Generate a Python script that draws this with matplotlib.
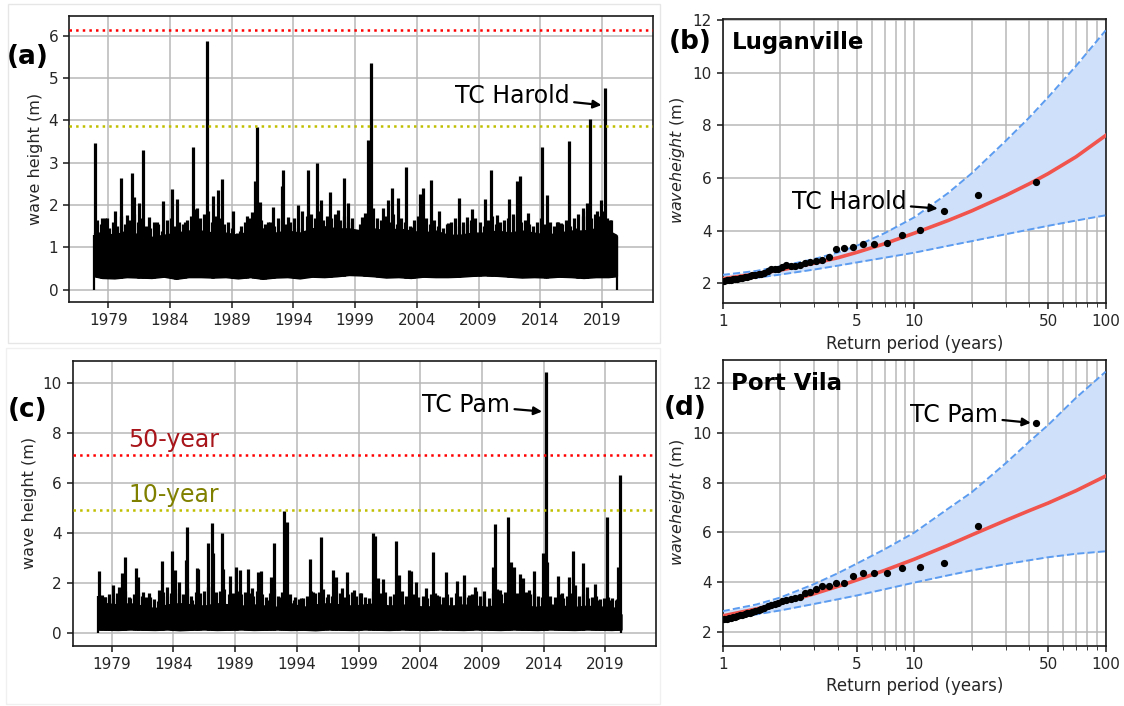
"""
Wave height time series (a, c) and return period curves (b, d)
for Luganville and Port Vila.
"""

import numpy as np
import matplotlib
matplotlib.use("Agg")
from matplotlib import pyplot as plt
from matplotlib.patches import Rectangle

#------------------------------------------------------------------------------
# data
#------------------------------------------------------------------------------

tick_years = [1979, 1984, 1989, 1994, 1999, 2004, 2009, 2014, 2019]

# (a) Luganville time series: background band + individual peaks
band_yr_a = [1977.85, 1978.5, 1979.5, 1980.5, 1981.5, 1982.5, 1983.5, 1984.5, 1985.5,
             1986.5, 1987.5, 1988.5, 1989.5, 1990.5, 1991.5, 1992.5, 1993.5, 1994.5,
             1995.5, 1996.5, 1997.5, 1998.5, 1999.5, 2000.5, 2001.5, 2002.5, 2003.5,
             2004.5, 2005.5, 2006.5, 2007.5, 2008.5, 2009.5, 2010.5, 2011.5, 2012.5,
             2013.5, 2014.5, 2015.5, 2016.5, 2017.5, 2018.5, 2019.5, 2020.15]
band_lo_a = [0.32, 0.28, 0.27, 0.30, 0.29, 0.28, 0.31, 0.26, 0.30, 0.30, 0.29, 0.30,
             0.27, 0.30, 0.26, 0.29, 0.30, 0.27, 0.31, 0.30, 0.32, 0.35, 0.34, 0.32,
             0.29, 0.30, 0.28, 0.31, 0.30, 0.30, 0.31, 0.33, 0.34, 0.33, 0.31, 0.29,
             0.30, 0.29, 0.31, 0.30, 0.28, 0.30, 0.30, 0.32]
band_hi_a = [1.35, 1.35, 1.30, 1.40, 1.30, 1.25, 1.30, 1.35, 1.40, 1.40, 1.35, 1.35,
             1.30, 1.40, 1.45, 1.35, 1.40, 1.35, 1.45, 1.50, 1.45, 1.45, 1.40, 1.45,
             1.40, 1.45, 1.40, 1.35, 1.40, 1.30, 1.30, 1.35, 1.35, 1.40, 1.35, 1.40,
             1.35, 1.30, 1.35, 1.40, 1.40, 1.45, 1.40, 1.30]
peak_yr_a = [1977.92, 1978.46, 1978.87, 1979.54, 1980.05, 1980.48, 1980.89, 1981.08,
             1981.51, 1981.78, 1982.32, 1982.91, 1983.40, 1984.13, 1984.59, 1985.21,
             1985.88, 1986.15, 1986.96, 1987.45, 1987.91, 1988.23, 1989.12, 1989.66,
             1990.20, 1990.61, 1990.88, 1991.06, 1991.28, 1991.96, 1992.36, 1993.04,
             1993.17, 1993.57, 1994.38, 1995.14, 1995.92, 1996.27, 1996.95, 1997.62,
             1998.08, 1998.43, 1999.11, 1999.52, 1999.79, 2000.06, 2000.25, 2000.46,
             2001.27, 2001.68, 2001.95, 2002.49, 2003.08, 2003.57, 2004.24, 2004.51,
             2005.13, 2005.78, 2006.53, 2007.42, 2008.02, 2008.50, 2009.50, 2010.04,
             2010.50, 2011.48, 2012.07, 2012.34, 2013.01, 2014.15, 2014.55, 2015.31,
             2015.71, 2016.31, 2016.98, 2017.47, 2017.74, 2018.06, 2018.60, 2018.95,
             2019.27, 2019.62, 2020.11]
peak_h_a = [3.47, 1.70, 1.70, 1.85, 2.65, 1.77, 2.75, 2.18, 2.06, 3.30, 1.73, 1.60,
            2.10, 2.37, 2.14, 1.60, 3.38, 1.93, 5.88, 2.22, 2.36, 2.61, 1.85, 1.40,
            1.75, 1.83, 2.58, 3.84, 2.08, 1.60, 1.95, 2.45, 2.83, 1.73, 2.00, 2.83,
            2.99, 2.12, 2.30, 1.89, 2.65, 2.04, 1.41, 1.73, 1.81, 3.54, 5.36, 1.93,
            1.93, 2.12, 2.41, 2.16, 2.89, 1.49, 2.26, 2.40, 2.59, 1.85, 1.57, 2.16,
            1.73, 1.91, 2.15, 2.83, 1.77, 2.15, 2.56, 2.69, 1.81, 3.38, 2.24, 1.61,
            1.57, 3.51, 1.45, 1.93, 2.06, 4.03, 1.85, 2.12, 4.76, 1.65, 1.30]
# smaller swell events, about three a year (1978.05 ... 2019.75)
minor_yr_a = np.linspace(1978.05, 2019.75, 126)
minor_h_a = [1.65, 1.55, 1.70, 1.45, 1.60, 1.50, 1.75, 1.55, 1.65, 1.80, 1.60, 1.70,
             1.50, 1.45, 1.60, 1.55, 1.40, 1.65, 1.70, 1.50, 1.60, 1.55, 1.65, 1.75,
             1.90, 1.70, 1.80, 1.85, 1.60, 1.75, 1.70, 1.55, 1.60, 1.45, 1.35, 1.50,
             1.60, 1.70, 1.75, 1.80, 1.65, 1.55, 1.60, 1.50, 1.70, 1.65, 1.55, 1.60,
             1.70, 1.45, 1.85, 1.75, 1.80, 1.70, 1.85, 1.65, 1.75, 1.70, 1.80, 1.65,
             1.75, 1.60, 1.70, 1.40, 1.55, 1.65, 1.80, 1.60, 1.70, 1.65, 1.75, 1.60,
             1.80, 1.55, 1.70, 1.60, 1.50, 1.65, 1.75, 1.60, 1.70, 1.55, 1.65, 1.50,
             1.45, 1.55, 1.60, 1.70, 1.50, 1.60, 1.55, 1.65, 1.70, 1.60, 1.50, 1.65,
             1.75, 1.55, 1.60, 1.65, 1.70, 1.80, 1.75, 1.60, 1.65, 1.55, 1.50, 1.60,
             1.70, 1.55, 1.60, 1.50, 1.60, 1.55, 1.65, 1.50, 1.70, 1.80, 1.75, 1.85,
             1.70, 1.80, 1.75, 1.85, 1.70, 1.65]
edge_yr_a = [1977.84, 2020.17]
edge_h_a = [1.30, 1.25]
rp50_a = 6.14
rp10_a = 3.87

# (c) Port Vila time series
band_yr_c = [1977.9, 1978.5, 1979.5, 1980.5, 1981.5, 1982.5, 1983.5, 1984.5, 1985.5,
             1986.5, 1987.5, 1988.5, 1989.5, 1990.5, 1991.5, 1992.5, 1993.5, 1994.5,
             1995.5, 1996.5, 1997.5, 1998.5, 1999.5, 2000.5, 2001.5, 2002.5, 2003.5,
             2004.5, 2005.5, 2006.5, 2007.5, 2008.5, 2009.5, 2010.5, 2011.5, 2012.5,
             2013.5, 2014.5, 2015.5, 2016.5, 2017.5, 2018.5, 2019.5, 2020.3]
band_lo_c = [0.15, 0.14, 0.13, 0.15, 0.14, 0.13, 0.15, 0.12, 0.14, 0.15, 0.13, 0.14,
             0.15, 0.13, 0.14, 0.15, 0.13, 0.14, 0.12, 0.15, 0.14, 0.13, 0.15, 0.14,
             0.13, 0.15, 0.14, 0.13, 0.15, 0.14, 0.13, 0.15, 0.14, 0.13, 0.15, 0.14,
             0.13, 0.15, 0.14, 0.13, 0.15, 0.14, 0.13, 0.15]
band_hi_c = [1.25, 1.20, 1.15, 1.20, 1.10, 1.00, 1.15, 1.20, 1.15, 1.10, 1.20, 1.15,
             1.10, 1.15, 1.10, 1.05, 1.20, 1.05, 1.15, 1.20, 1.15, 1.10, 1.15, 1.20,
             1.10, 1.15, 1.10, 1.05, 1.15, 1.10, 1.15, 1.10, 1.05, 1.20, 1.15, 1.10,
             1.05, 1.15, 1.10, 1.05, 1.10, 1.05, 1.10, 0.75]
peak_yr_c = [1978.00, 1978.19, 1978.46, 1979.08, 1979.62, 1979.81, 1980.08, 1980.48,
             1980.97, 1981.16, 1981.51, 1982.05, 1982.84, 1983.05, 1983.46, 1983.92,
             1984.13, 1984.48, 1985.03, 1985.08, 1985.49, 1985.89, 1986.03, 1986.84,
             1987.11, 1987.24, 1987.92, 1988.05, 1988.59, 1989.08, 1989.40, 1990.08,
             1990.35, 1990.84, 1991.11, 1991.57, 1991.89, 1992.16, 1992.65, 1993.00,
             1993.19, 1993.73, 1994.33, 1995.08, 1995.35, 1995.97, 1996.43, 1996.97,
             1997.19, 1997.65, 1998.06, 1998.60, 1999.14, 2000.14, 2000.30, 2000.55,
             2000.98, 2001.57, 2002.03, 2002.25, 2003.11, 2003.25, 2003.68, 2004.49,
             2005.03, 2005.36, 2006.09, 2006.98, 2007.52, 2007.92, 2008.47, 2009.14,
             2009.90, 2010.09, 2010.49, 2011.09, 2011.38, 2011.57, 2012.11, 2012.33,
             2012.79, 2013.19, 2013.95, 2014.17, 2014.27, 2015.14, 2015.49, 2016.05,
             2016.35, 2016.57, 2017.19, 2017.52, 2018.14, 2018.46, 2019.14, 2019.41,
             2019.82, 2020.03, 2020.17]
peak_h_c = [2.50, 1.53, 1.46, 1.93, 1.86, 2.40, 3.03, 1.40, 2.59, 2.26, 1.66, 1.62,
            1.73, 2.90, 1.86, 3.29, 2.53, 2.06, 2.93, 4.26, 1.33, 2.62, 2.55, 3.59,
            4.39, 3.22, 4.02, 2.55, 2.29, 2.63, 2.53, 2.58, 1.80, 2.46, 2.50, 1.33,
            2.26, 3.62, 1.46, 4.86, 4.46, 1.33, 1.40, 2.95, 1.66, 3.86, 1.46, 2.53,
            2.24, 1.80, 2.46, 1.73, 1.60, 3.99, 3.89, 2.20, 2.16, 1.46, 3.70, 2.33,
            2.53, 2.50, 2.06, 1.80, 3.23, 1.53, 2.46, 2.10, 2.33, 1.53, 1.86, 1.70,
            2.66, 4.36, 1.73, 4.66, 2.86, 2.66, 2.37, 2.20, 1.73, 2.50, 3.22, 10.41,
            2.86, 2.29, 1.60, 2.26, 3.30, 1.93, 2.82, 1.86, 1.96, 1.33, 4.63, 1.33,
            1.33, 2.63, 6.32]
minor_yr_c = np.linspace(1978.1, 2019.9, 126)
minor_h_c = [1.50, 1.45, 1.55, 1.40, 1.60, 1.50, 1.70, 1.45, 1.55, 1.60, 1.50, 1.45,
             1.45, 1.35, 1.30, 1.65, 1.50, 1.60, 1.75, 1.60, 1.55, 1.80, 1.50, 1.65,
             1.60, 1.70, 1.85, 1.90, 1.65, 1.70, 1.75, 1.55, 1.60, 1.70, 1.55, 1.65,
             1.60, 1.50, 1.70, 1.55, 1.45, 1.60, 1.75, 1.50, 1.65, 1.80, 1.55, 1.45,
             1.35, 1.40, 1.50, 1.70, 1.60, 1.65, 1.75, 1.55, 1.50, 1.65, 1.60, 1.45,
             1.55, 1.65, 1.50, 1.60, 1.45, 1.40, 1.70, 1.55, 1.60, 1.65, 1.50, 1.55,
             1.60, 1.70, 1.50, 1.65, 1.55, 1.45, 1.50, 1.40, 1.55, 1.60, 1.50, 1.45,
             1.55, 1.45, 1.60, 1.50, 1.65, 1.45, 1.55, 1.70, 1.50, 1.45, 1.40, 1.60,
             1.75, 1.55, 1.65, 1.80, 1.70, 1.60, 1.75, 1.65, 1.55, 1.60, 1.50, 1.45,
             1.65, 1.50, 1.45, 1.55, 1.40, 1.50, 1.60, 1.45, 1.50, 1.55, 1.40, 1.45,
             1.50, 1.35, 1.40, 1.45, 1.40, 1.35]
edge_yr_c = [1977.86, 2020.3]
edge_h_c = [1.50, 0.75]
rp50_c = 7.12
rp10_c = 4.91

# (b) Luganville return periods: annual maxima
rp_T = [43.0, 21.5, 14.3, 10.75, 8.6, 7.17, 6.14, 5.38, 4.78, 4.30, 3.91, 3.58, 3.31,
        3.07, 2.87, 2.69, 2.53, 2.39, 2.26, 2.15, 2.05, 1.95, 1.87, 1.79, 1.72, 1.65,
        1.59, 1.54, 1.48, 1.43, 1.39, 1.34, 1.30, 1.26, 1.23, 1.19, 1.16, 1.13, 1.10,
        1.075, 1.05, 1.02]
amax_b = [5.85, 5.36, 4.76, 4.02, 3.82, 3.53, 3.49, 3.49, 3.36, 3.34, 3.30, 2.98, 2.89,
          2.85, 2.82, 2.78, 2.70, 2.66, 2.66, 2.68, 2.62, 2.56, 2.54, 2.53, 2.45, 2.40,
          2.36, 2.35, 2.33, 2.30, 2.26, 2.23, 2.22, 2.20, 2.19, 2.17, 2.16, 2.15, 2.14,
          2.12, 2.11, 2.10]
# (d) Port Vila
amax_d = [10.40, 6.27, 4.78, 4.62, 4.56, 4.38, 4.38, 4.35, 4.24, 3.98, 3.95, 3.84, 3.83,
          3.71, 3.60, 3.55, 3.40, 3.34, 3.30, 3.27, 3.22, 3.17, 3.12, 3.08, 3.02, 2.96,
          2.92, 2.88, 2.83, 2.80, 2.77, 2.74, 2.72, 2.68, 2.66, 2.63, 2.60, 2.58, 2.56,
          2.55, 2.53, 2.52]

# fitted curve and confidence band
fit_T = [1, 1.5, 2, 3, 4, 5, 7, 10, 15, 20, 30, 40, 50, 70, 100]
fit_b = [2.17, 2.36, 2.50, 2.76, 2.97, 3.17, 3.50, 3.90, 4.38, 4.75, 5.33, 5.78, 6.16,
         6.80, 7.61]
ci_hi_b = [2.32, 2.47, 2.64, 2.92, 3.17, 3.42, 3.90, 4.50, 5.42, 6.18, 7.40, 8.30, 9.06,
           10.25, 11.60]
ci_lo_b = [2.05, 2.21, 2.33, 2.52, 2.67, 2.79, 2.97, 3.16, 3.42, 3.60, 3.86, 4.04, 4.18,
           4.38, 4.58]
fit_d = [2.64, 2.92, 3.14, 3.53, 3.83, 4.08, 4.47, 4.92, 5.48, 5.90, 6.48, 6.88, 7.18,
         7.68, 8.27]
ci_hi_d = [2.83, 3.10, 3.38, 3.92, 4.36, 4.74, 5.32, 5.99, 6.95, 7.62, 8.78, 9.66, 10.32,
           11.42, 12.47]
ci_lo_d = [2.50, 2.70, 2.86, 3.12, 3.31, 3.46, 3.71, 3.98, 4.27, 4.47, 4.72, 4.88, 5.00,
           5.14, 5.24]

#------------------------------------------------------------------------------
# figure layout (pixel positions of each axes box)
#------------------------------------------------------------------------------

W, H = 1124, 706
fig = plt.figure(figsize=(W/100, H/100), dpi=100)

def px_axes(l, t, r, b):
    return fig.add_axes([l/W, 1 - b/H, (r - l)/W, (b - t)/H])

def px_text(x, y, s, **kw):
    fig.text(x/W, 1 - y/H, s, **kw)

txt_col = '#262626'
tick_size = 11
label_size = 11.5

def style_axes(ax):
    for sp in ax.spines.values():
        sp.set_color('#1a1a1a')
        sp.set_linewidth(1.2)
    ax.tick_params(labelsize=tick_size, colors='#1a1a1a', labelcolor=txt_col,
                   length=4.5, width=1.1)
    ax.grid(True, which='both', color='#b8b8b8', lw=1.1)
    ax.set_axisbelow(True)

def draw_series(ax, band_x, band_lo, band_hi, peak_x, peak_h, minor_x, minor_h,
                edge_x, edge_h, rp50, rp10, ylim, yticks):
    ax.fill_between(band_x, band_lo, band_hi, color='black', lw=1.0, zorder=3)
    ax.vlines(minor_x, np.interp(minor_x, band_x, band_lo), minor_h,
              color='black', lw=2.3, zorder=3)
    ax.vlines(peak_x, np.interp(peak_x, band_x, band_lo), peak_h,
              color='black', lw=2.3, zorder=3)
    ax.vlines(edge_x, 0, edge_h, color='black', lw=1.6, zorder=3)
    ax.axhline(rp50, color='red', ls=':', lw=1.8, zorder=4)
    ax.axhline(rp10, color='y', ls=':', lw=1.8, zorder=4)
    ax.set_xlim(1975.84, 2023.1)
    ax.set_ylim(*ylim)
    ax.set_xticks(tick_years)
    ax.set_xticklabels([str(y) for y in tick_years])
    ax.set_yticks(yticks)
    ax.set_ylabel("wave height (m)", fontsize=label_size, color=txt_col)
    style_axes(ax)

def draw_rp(ax, amax, fit, ci_lo, ci_hi, ylim, yticks):
    ax.fill_between(fit_T, ci_lo, ci_hi, color='#cfe0fa', lw=0, zorder=2)
    ax.plot(fit_T, ci_hi, ls='--', color='#5c9cf0', lw=1.4, zorder=3)
    ax.plot(fit_T, ci_lo, ls='--', color='#5c9cf0', lw=1.4, zorder=3)
    ax.plot(fit_T, fit, color='#f0544c', lw=2.6, zorder=4)
    ax.plot(rp_T, amax, 'o', color='black', ms=4.2, zorder=5)
    ax.set_xscale('log')
    ax.set_xlim(1, 100)
    ax.set_ylim(*ylim)
    ax.set_xticks([1, 5, 10, 50, 100])
    ax.set_xticklabels(['1', '5', '10', '50', '100'])
    ax.set_xticks([2, 3, 4, 6, 7, 8, 9, 20, 30, 40, 60, 70, 80, 90], minor=True)
    ax.set_xticklabels([], minor=True)
    ax.set_yticks(yticks)
    ax.set_xlabel("Return period (years)", fontsize=12, color=txt_col)
    ax.set_ylabel("$wave height$ (m)", fontsize=label_size, color=txt_col)
    style_axes(ax)
    ax.tick_params(which='minor', length=3, color='#1a1a1a')

arrow = dict(arrowstyle='-|>', color='black', lw=1.6, mutation_scale=12,
             shrinkA=1, shrinkB=0)

# faint borders of the pasted panels
fig.add_artist(Rectangle((8/W, 1 - 343/H), 652/W, 339/H, transform=fig.transFigure,
                         fill=False, ec='#e6e6e6', lw=1.0))
fig.add_artist(Rectangle((6/W, 1 - 704/H), 654/W, 356/H, transform=fig.transFigure,
                         fill=False, ec='#f0f0f0', lw=1.0))

#------------------------------------------------------------------------------
# (a) Luganville time series
#------------------------------------------------------------------------------
ax1 = px_axes(69.3, 15.7, 652.7, 301.7)
draw_series(ax1, band_yr_a, band_lo_a, band_hi_a, peak_yr_a, peak_h_a,
            minor_yr_a, minor_h_a, edge_yr_a, edge_h_a, rp50_a, rp10_a,
            (-0.28, 6.47), range(0, 7))
ax1.annotate("TC Harold", xy=(2018.95, 4.36), xytext=(2016.4, 4.58),
             ha='right', va='center', fontsize=17, arrowprops=arrow, zorder=6)

#------------------------------------------------------------------------------
# (c) Port Vila time series
#------------------------------------------------------------------------------
ax3 = px_axes(72.7, 360.7, 656, 646)
draw_series(ax3, band_yr_c, band_lo_c, band_hi_c, peak_yr_c, peak_h_c,
            minor_yr_c, minor_h_c, edge_yr_c, edge_h_c, rp50_c, rp10_c,
            (-0.51, 10.88), range(0, 11, 2))
ax3.annotate("TC Pam", xy=(2013.87, 8.85), xytext=(2011.3, 9.11),
             ha='right', va='center', fontsize=17, arrowprops=arrow, zorder=6)
ax3.text(1980.35, rp50_c + 0.13, "50-year", color='#a8161b', fontsize=17, va='bottom')
ax3.text(1980.35, rp10_c + 0.13, "10-year", color='#808000', fontsize=17, va='bottom')

#------------------------------------------------------------------------------
# (b) Luganville return period
#------------------------------------------------------------------------------
ax2 = px_axes(722.7, 18.5, 1105.7, 303.3)
draw_rp(ax2, amax_b, fit_b, ci_lo_b, ci_hi_b, (1.24, 12.05), range(2, 13, 2))
ax2.annotate("TC Harold", xy=(13.27, 4.84), xytext=(9.14, 5.09),
             ha='right', va='center', fontsize=17, arrowprops=arrow, zorder=6)

#------------------------------------------------------------------------------
# (d) Port Vila return period
#------------------------------------------------------------------------------
ax4 = px_axes(722.7, 360, 1105.7, 645.7)
draw_rp(ax4, amax_d, fit_d, ci_lo_d, ci_hi_d, (1.44, 12.94), range(2, 13, 2))
ax4.annotate("TC Pam", xy=(40.6, 10.41), xytext=(27.5, 10.72),
             ha='right', va='center', fontsize=17, arrowprops=arrow, zorder=6)

# panel letters and titles
px_text(28, 57, "(a)", fontsize=19, fontweight='bold', ha='center', va='center')
px_text(28, 410, "(c)", fontsize=19, fontweight='bold', ha='center', va='center')
px_text(690, 42, "(b)", fontsize=19, fontweight='bold', ha='center', va='center')
px_text(685, 408, "(d)", fontsize=19, fontweight='bold', ha='center', va='center')
px_text(731.7, 42, "Luganville", fontsize=16.5, fontweight='bold', ha='left', va='center')
px_text(730.7, 383.3, "Port Vila", fontsize=16.5, fontweight='bold', ha='left', va='center')

fig.savefig("out.png", dpi=100)
